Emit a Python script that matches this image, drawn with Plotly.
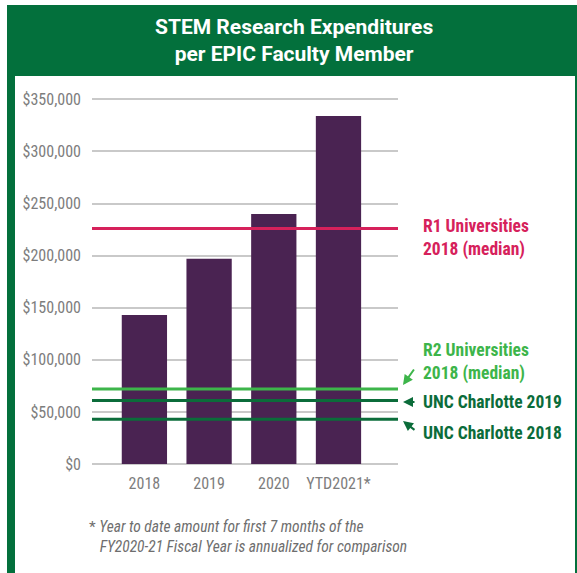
import plotly.graph_objects as go

W, H = 577, 573

categories = ["2018", "2019", "2020", "YTD2021*"]
values = [143000, 197000, 240000, 334000]

ref_names = ["R1 Universities<br>2018 (median)", "R2 Universities<br>2018 (median)",
             "UNC Charlotte 2019", "UNC Charlotte 2018"]
ref_values = [226000, 72000, 61000, 43000]
ref_colors = ["#d6215b", "#3db54a", "#0b6c3a", "#0b6c3a"]

tick_vals = [0, 50000, 100000, 150000, 200000, 250000, 300000, 350000]
tick_text = ["$" + format(v, ",") for v in tick_vals]

title_lines = ["STEM Research Expenditures", "per EPIC Faculty Member"]
footnote = ("* <i>Year to date amount for first 7 months of the</i><br>"
            "   <i>FY2020-21 Fiscal Year is annualized for comparison</i>")

GREEN = "#03703c"
BAR = "#4a2352"
GRAY = "#7d7d7d"
NARROW = "Liberation Sans Narrow, Arial Narrow, Roboto Condensed, Roboto, sans-serif"

def px(x):
    return x / W

def py(y):
    return 1 - y / H

plot_left, plot_right = 92, 398
plot_top, plot_bottom = 97, 464
ymax = 350000 * (plot_bottom - plot_top) / (464 - 99.3)

fig = go.Figure()
fig.add_trace(go.Bar(x=categories, y=values, marker=dict(color=BAR, line=dict(width=0)),
                     width=0.70, hoverinfo="skip"))

shapes = [
    dict(type="rect", xref="paper", yref="paper", x0=px(7), x1=px(578), y0=py(575), y1=py(5),
         fillcolor=GREEN, line=dict(width=0), layer="below"),
    dict(type="rect", xref="paper", yref="paper", x0=px(15), x1=px(575), y0=py(576), y1=py(76),
         fillcolor="white", line=dict(width=0), layer="below"),
]
for v, c in zip(ref_values, ref_colors):
    shapes.append(dict(type="line", xref="x domain", yref="y", x0=0, x1=1, y0=v, y1=v,
                       line=dict(color=c, width=3), layer="above"))

annotations = [
    dict(text="<b>" + title_lines[0] + "</b><br><b>" + title_lines[1] + "</b>",
         xref="paper", yref="paper", x=px(294), y=py(41), showarrow=False,
         font=dict(family="Roboto, sans-serif", size=21, color="white"), align="center",
         xanchor="center", yanchor="middle"),
    dict(text=footnote, xref="paper", yref="paper", x=px(87), y=py(537), showarrow=False,
         font=dict(family=NARROW, size=15.5, color="#6e6e6e"), align="left",
         xanchor="left", yanchor="middle"),
]
label_pos = [(421, 238), (421, 362), (421, 402), (421, 433)]
for name, c, (lx, ly) in zip(ref_names, ref_colors, label_pos):
    annotations.append(dict(text="<b>" + name + "</b>", xref="paper", yref="paper",
                            x=px(lx), y=py(ly), showarrow=False, align="left",
                            xanchor="left", yanchor="middle",
                            font=dict(family=NARROW, size=17.5, color=c)))
arrows = [((403, 385), (12, -17), ref_colors[1]),
          ((403, 402), (13, 0), ref_colors[2]),
          ((403, 421), (13, 10), ref_colors[3])]
for (hx, hy), (ax, ay), c in arrows:
    annotations.append(dict(text="", xref="paper", yref="paper", x=px(hx), y=py(hy),
                            ax=ax, ay=ay, showarrow=True, arrowhead=2, arrowsize=1,
                            arrowwidth=2, arrowcolor=c, standoff=0, startstandoff=0))

fig.update_layout(
    width=W, height=H,
    margin=dict(l=0, r=0, t=0, b=0, autoexpand=False),
    paper_bgcolor="white", plot_bgcolor="rgba(0,0,0,0)",
    showlegend=False,
    shapes=shapes, annotations=annotations,
    xaxis=dict(domain=[px(plot_left), px(plot_right)], range=[-0.81, 3.92],
               automargin=False,
               showgrid=False, zeroline=False, showline=False, ticks="",
               tickfont=dict(family=NARROW, size=16, color=GRAY), ticklabelstandoff=8),
    yaxis=dict(domain=[py(plot_bottom), py(plot_top)], range=[0, ymax],
               automargin=False,
               tickmode="array", tickvals=tick_vals, ticktext=tick_text,
               showgrid=True, gridcolor="#c9c9c9", gridwidth=1.5,
               zeroline=True, zerolinecolor="#c9c9c9", zerolinewidth=1.5,
               showline=False, ticks="",
               tickfont=dict(family=NARROW, size=16, color=GRAY), ticklabelstandoff=10),
)

fig.write_html("out.html")
